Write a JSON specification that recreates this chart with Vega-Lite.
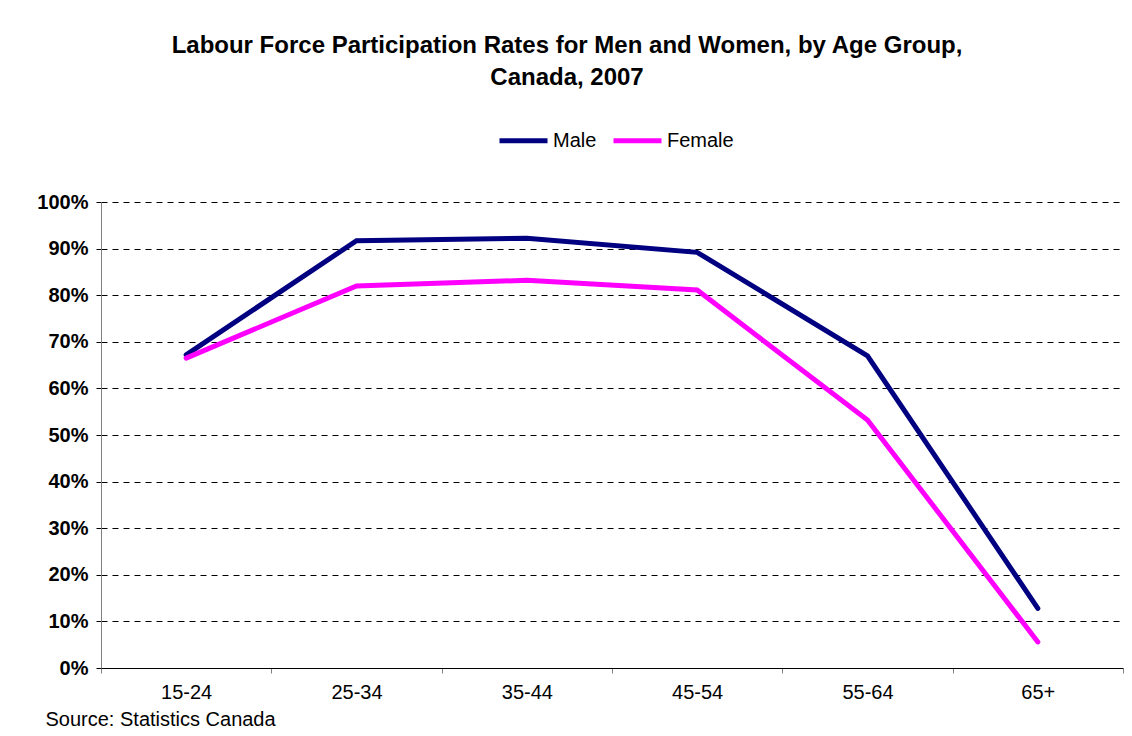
{
  "$schema": "https://vega.github.io/schema/vega-lite/v6.json",
  "autosize": "none",
  "width": 1022,
  "height": 466,
  "padding": {"left": 101, "top": 202, "right": 9, "bottom": 68},
  "background": "white",
  "config": {
    "font": "Liberation Sans",
    "view": {"stroke": null}
  },
  "title": {
    "text": ["Labour Force Participation Rates for Men and Women, by Age Group,", "Canada, 2007"],
    "fontSize": 24,
    "fontWeight": "bold",
    "color": "black",
    "anchor": "middle",
    "dx": -45,
    "offset": 24,
    "lineHeight": 32
  },
  "data": {
    "values": [
      {"age": "15-24", "sex": "Male", "rate": 0.672},
      {"age": "25-34", "sex": "Male", "rate": 0.917},
      {"age": "35-44", "sex": "Male", "rate": 0.922},
      {"age": "45-54", "sex": "Male", "rate": 0.892},
      {"age": "55-64", "sex": "Male", "rate": 0.670},
      {"age": "65+", "sex": "Male", "rate": 0.128},
      {"age": "15-24", "sex": "Female", "rate": 0.665},
      {"age": "25-34", "sex": "Female", "rate": 0.820},
      {"age": "35-44", "sex": "Female", "rate": 0.832},
      {"age": "45-54", "sex": "Female", "rate": 0.811},
      {"age": "55-64", "sex": "Female", "rate": 0.532},
      {"age": "65+", "sex": "Female", "rate": 0.056}
    ]
  },
  "mark": {"type": "line", "strokeWidth": 5, "strokeCap": "round", "strokeJoin": "miter"},
  "encoding": {
    "x": {
      "field": "age",
      "type": "ordinal",
      "sort": null,
      "scale": {"type": "band", "paddingInner": 0, "paddingOuter": 0},
      "axis": {
        "title": "Source: Statistics Canada",
        "titleX": -56,
        "titleY": 57,
        "titleAlign": "left",
        "titleAnchor": "start",
        "titleBaseline": "alphabetic",
        "titleFontSize": 20,
        "titleFontWeight": "normal",
        "titleColor": "black",
        "labelAngle": 0,
        "labelFontSize": 20,
        "labelColor": "black",
        "labelPadding": 9,
        "tickBand": "extent",
        "tickSize": 5,
        "tickColor": "#808080",
        "domainColor": "black",
        "grid": false
      }
    },
    "y": {
      "field": "rate",
      "type": "quantitative",
      "scale": {"domain": [0, 1], "nice": false},
      "axis": {
        "title": null,
        "values": [0, 0.1, 0.2, 0.3, 0.4, 0.5, 0.6, 0.7, 0.8, 0.9, 1],
        "format": ".0%",
        "labelFontSize": 20,
        "labelFontWeight": "bold",
        "labelColor": "black",
        "labelPadding": 8,
        "tickSize": 5,
        "tickColor": "black",
        "domainColor": "#808080",
        "grid": true,
        "gridColor": "black",
        "gridDash": [6, 5],
        "gridOpacity": 1
      }
    },
    "color": {
      "field": "sex",
      "type": "nominal",
      "sort": ["Male", "Female"],
      "scale": {"domain": ["Male", "Female"], "range": ["#000080", "#FF00FF"]},
      "legend": {
        "title": null,
        "orient": "none",
        "direction": "horizontal",
        "legendX": 396,
        "legendY": -88,
        "symbolType": "stroke",
        "symbolSize": 2304,
        "symbolStrokeWidth": 5,
        "labelFontSize": 20,
        "labelColor": "black",
        "labelOffset": 3,
        "columnPadding": 6
      }
    }
  }
}
